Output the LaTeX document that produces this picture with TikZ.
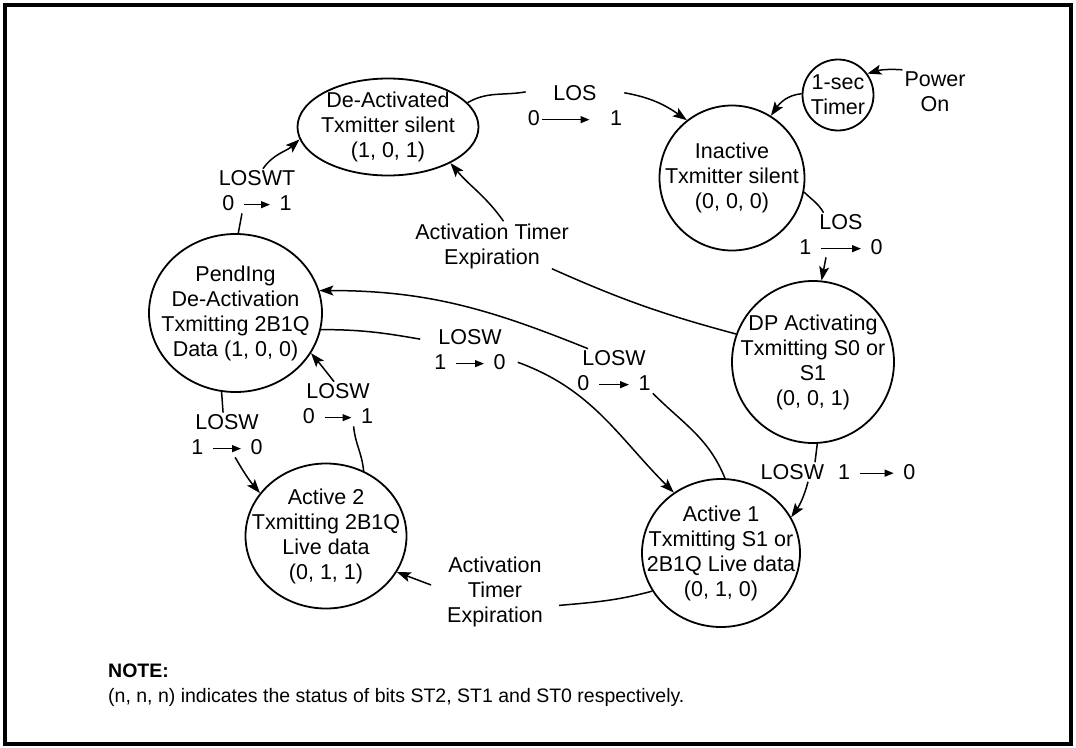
\documentclass[tikz,border=0pt]{standalone}
\usepackage{fontspec}
\setmainfont{Liberation Sans}
\usetikzlibrary{arrows.meta,shapes.geometric,calc}
\newcommand\ra[1][28pt]{\tikz[baseline=-0.55ex]\draw[line width=1.3pt,-{Triangle[length=9pt,width=7pt]}] (0pt,0pt)--(#1,0pt);}
\newcommand\tr[3][28pt]{#2\hspace{9pt}\ra[#1]\hspace{9pt}#3}
\begin{document}
\begin{tikzpicture}[x=1pt,y=1pt,
  state/.style={draw,line width=1.8pt,inner sep=-60pt,align=center,font=\fontsize{21.5}{25}\selectfont},
  lab/.style={inner sep=2pt,align=center,font=\fontsize{21.5}{25}\selectfont},
  conn/.style={line width=1.5pt},
  arr/.style={conn,-{Stealth[length=14pt,width=10pt,inset=3pt]}}]
\useasboundingbox (0,0) rectangle (1076,-747);
\draw[line width=4pt] (5,-4.5) rectangle (1071,-744);

% states
\node[state,ellipse,minimum width=181pt,minimum height=97pt] (deact) at (388,-127) {De-Activated\\Txmitter silent\\(1, 0, 1)};
\node[state,circle,inner sep=0pt,minimum size=71pt] (timer) at (838,-95) {1-sec\\Timer};
\node[state,circle,minimum size=145pt] (inact) at (732,-178) {Inactive\\Txmitter silent\\(0, 0, 0)};
\node[state,ellipse,minimum width=173pt,minimum height=158pt] (pend) at (235.5,-313) {PendIng\\De-Activation\\Txmitting 2B1Q\\Data (1, 0, 0)};
\node[state,circle,minimum size=162pt] (dp) at (813,-362) {DP Activating\\Txmitting S0 or\\S1\\(0, 0, 1)};
\node[state,ellipse,minimum width=161pt,minimum height=145pt] (act2) at (326,-536) {Active 2\\Txmitting 2B1Q\\Live data\\(0, 1, 1)};
\node[state,ellipse,minimum width=158pt,minimum height=148pt] (act1) at (721,-553) {Active 1\\Txmitting S1 or\\2B1Q Live data\\(0, 1, 0)};

% labels
\node[lab] (power) at (935,-92) {Power\\On};
\node[lab] (los1) at (575,-106) {LOS\\0\hspace{1pt}\ra[48pt]\hspace{20pt}1};
\node[lab] (loswt) at (257,-191) {LOSWT\\\tr[26pt]{0}{1}};
\node[lab] (ate1) at (492,-246) {Activation Timer\\Expiration};
\node[lab] (loswa) at (614,-371) {LOSW\\\tr[30pt]{0}{1}};
\node[lab] (loswb) at (470,-350) {LOSW\\\tr{1}{0}};
\node[lab] (loswc) at (338,-404) {LOSW\\\tr[27pt]{0}{1}};
\node[lab] (loswd) at (227,-435) {LOSW\\\tr{1}{0}};
\node[lab] (ate2) at (495,-592) {Activation\\Timer\\Expiration};
\node[lab] (los2) at (841,-235) {LOS\\\tr[40pt]{1}{0}};
\node[lab] (loswe) at (838,-472) {LOSW\hspace{14pt}\tr[34pt]{1}{0}};

% note
\node[anchor=west,inner sep=0pt,font=\bfseries\fontsize{19.5}{23}\selectfont] (note) at (108,-671) {NOTE:};
\node[anchor=west,inner sep=0pt,font=\fontsize{19.5}{23}\selectfont] (notetext) at (108,-697) {(n, n, n) indicates the status of bits ST2, ST1 and ST0 respectively.};

% connectors
\draw[arr] (power.north west) to[bend right=10] (timer.36);
\draw[arr] (timer.178) to[out=185,in=55] (inact.58);

\draw[conn] (deact.17) to[out=30,in=190] (los1.164);
\draw[arr] (los1.15) to[out=-10,in=145] (inact.128);

\draw[conn] (pend.88) -- ([xshift=-15pt]loswt.south);
\draw[arr] ([xshift=6pt]loswt.north) to[out=55,in=222] (deact.188);

\draw[conn] (dp.160) to[out=165,in=-24] ([xshift=-19pt,yshift=2pt]ate1.south east);
\draw[arr] (ate1.65) to[out=125,in=-50] (deact.-30);

\draw[conn] (act1.87) to[out=112,in=-45] (loswa.south east);
\draw[arr] ([xshift=-26pt]loswa.north) to[out=158,in=0] (pend.15);

\draw[conn] (pend.-11) to[out=0,in=170] ([xshift=-12pt]loswb.164);
\draw[arr] ([xshift=10pt]loswb.-18) to[out=-20,in=135] (act1.128);

\draw[conn] (act2.60) to[out=95,in=-85] (loswc.-55);
\draw[arr] (loswc.100) to[out=128,in=-50] (pend.-28);

\draw[conn] (pend.-100) -- (loswd.100);
\draw[arr] (loswd.-70) to[out=-60,in=130] (act2.147);

\draw[conn] (act1.209) to[out=195,in=5] ([xshift=14pt]ate2.-15);
\draw[arr] ([xshift=-14pt]ate2.172) -- (act2.-27);

\draw[conn] (inact.-11) to[out=-45,in=120] (los2.128);
\draw[arr] ([xshift=-15pt]los2.south) -- (dp.84);

\draw[conn] (dp.-87) -- ([xshift=-23pt]loswe.north);
\draw[arr] ([xshift=-30pt]loswe.south) to[out=-105,in=55] (act1.27);
\end{tikzpicture}
\end{document}
